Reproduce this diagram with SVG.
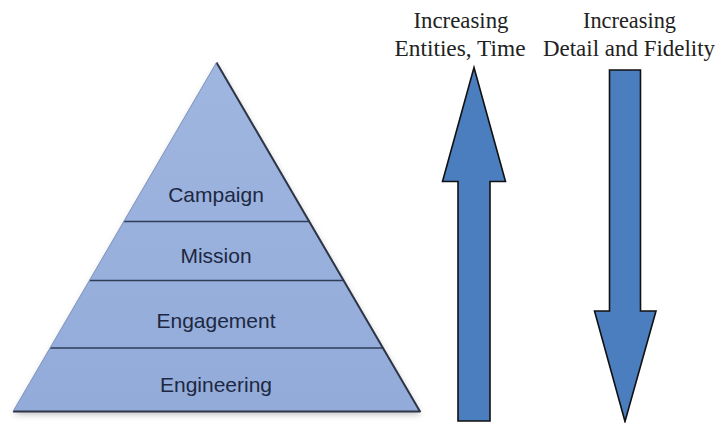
<svg xmlns="http://www.w3.org/2000/svg" width="720" height="423" viewBox="0 0 720 423">
  <defs>
    <linearGradient id="pyrFill" gradientUnits="userSpaceOnUse" x1="0" y1="62" x2="0" y2="412">
      <stop offset="0" stop-color="#9fb6e0"/>
      <stop offset="1" stop-color="#93abd9"/>
    </linearGradient>
    <filter id="shadow" x="-10%" y="-10%" width="120%" height="120%">
      <feDropShadow dx="1" dy="3" stdDeviation="3" flood-color="#000" flood-opacity="0.25"/>
    </filter>
  </defs>
  <style>
    .tier { fill: url(#pyrFill); stroke: none; }
    .divider { stroke: #2f3d57; stroke-width: 1.6; fill: none; }
    .edge { stroke: #2e3547; stroke-width: 2; fill: none; stroke-linejoin: round; }
    .label { font-family: "Liberation Sans", Arial, sans-serif; font-size: 21px; fill: #1d2842; text-anchor: middle; }
    .caption { font-family: "Liberation Serif", "Times New Roman", serif; font-size: 23px; fill: #222; text-anchor: middle; }
    .arrow { fill: #4a7ebf; stroke: #111; stroke-width: 1.6; stroke-linejoin: miter; }
  </style>
  <rect width="720" height="423" fill="#ffffff"/>

  <g id="pyramid">
    <polygon points="216.5,62.5 420,411.5 13,411.5" fill="#95acd9" filter="url(#shadow)"/>
    <g id="tier-campaign">
      <polygon class="tier" points="216.5,62.5 309.2,221.5 123.8,221.5"/>
      <text class="label" x="216" y="201.5">Campaign</text>
    </g>
    <g id="tier-mission">
      <polygon class="tier" points="123.8,221.5 309.2,221.5 343.6,280.5 89.4,280.5"/>
      <text class="label" x="216" y="263">Mission</text>
    </g>
    <g id="tier-engagement">
      <polygon class="tier" points="89.4,280.5 343.6,280.5 383,348 50,348"/>
      <text class="label" x="216" y="328">Engagement</text>
    </g>
    <g id="tier-engineering">
      <polygon class="tier" points="50,348 383,348 420,411.5 13,411.5"/>
      <text class="label" x="216" y="391.5">Engineering</text>
    </g>
    <line class="divider" x1="123.8" y1="221.5" x2="309.2" y2="221.5"/>
    <line class="divider" x1="89.4" y1="280.5" x2="343.6" y2="280.5"/>
    <line class="divider" x1="50" y1="348" x2="383" y2="348"/>
    <path class="edge" d="M216.5,62.5 L420,411.5 L13,411.5"/>
    <path d="M216.5,62.5 L13,411.5" stroke="#8094bd" stroke-width="1" fill="none"/>
  </g>

  <g id="connectors">
    <g id="arrow-up">
      <polygon class="arrow" points="474,67.5 505.5,181.5 490,181.5 490,421 458,421 458,181.5 442.5,181.5"/>
    </g>
    <g id="arrow-down">
      <polygon class="arrow" points="609.5,70 640.5,70 640.5,311 656,311 625,421.5 594.5,311 609.5,311"/>
    </g>
  </g>

  <g id="label-entities">
    <text class="caption" x="461" y="28" textLength="95" lengthAdjust="spacingAndGlyphs">Increasing</text>
    <text class="caption" x="460" y="56" textLength="131" lengthAdjust="spacingAndGlyphs">Entities, Time</text>
  </g>
  <g id="label-detail">
    <text class="caption" x="629.5" y="28" textLength="93" lengthAdjust="spacingAndGlyphs">Increasing</text>
    <text class="caption" x="629" y="56" textLength="172" lengthAdjust="spacingAndGlyphs">Detail and Fidelity</text>
  </g>
</svg>
